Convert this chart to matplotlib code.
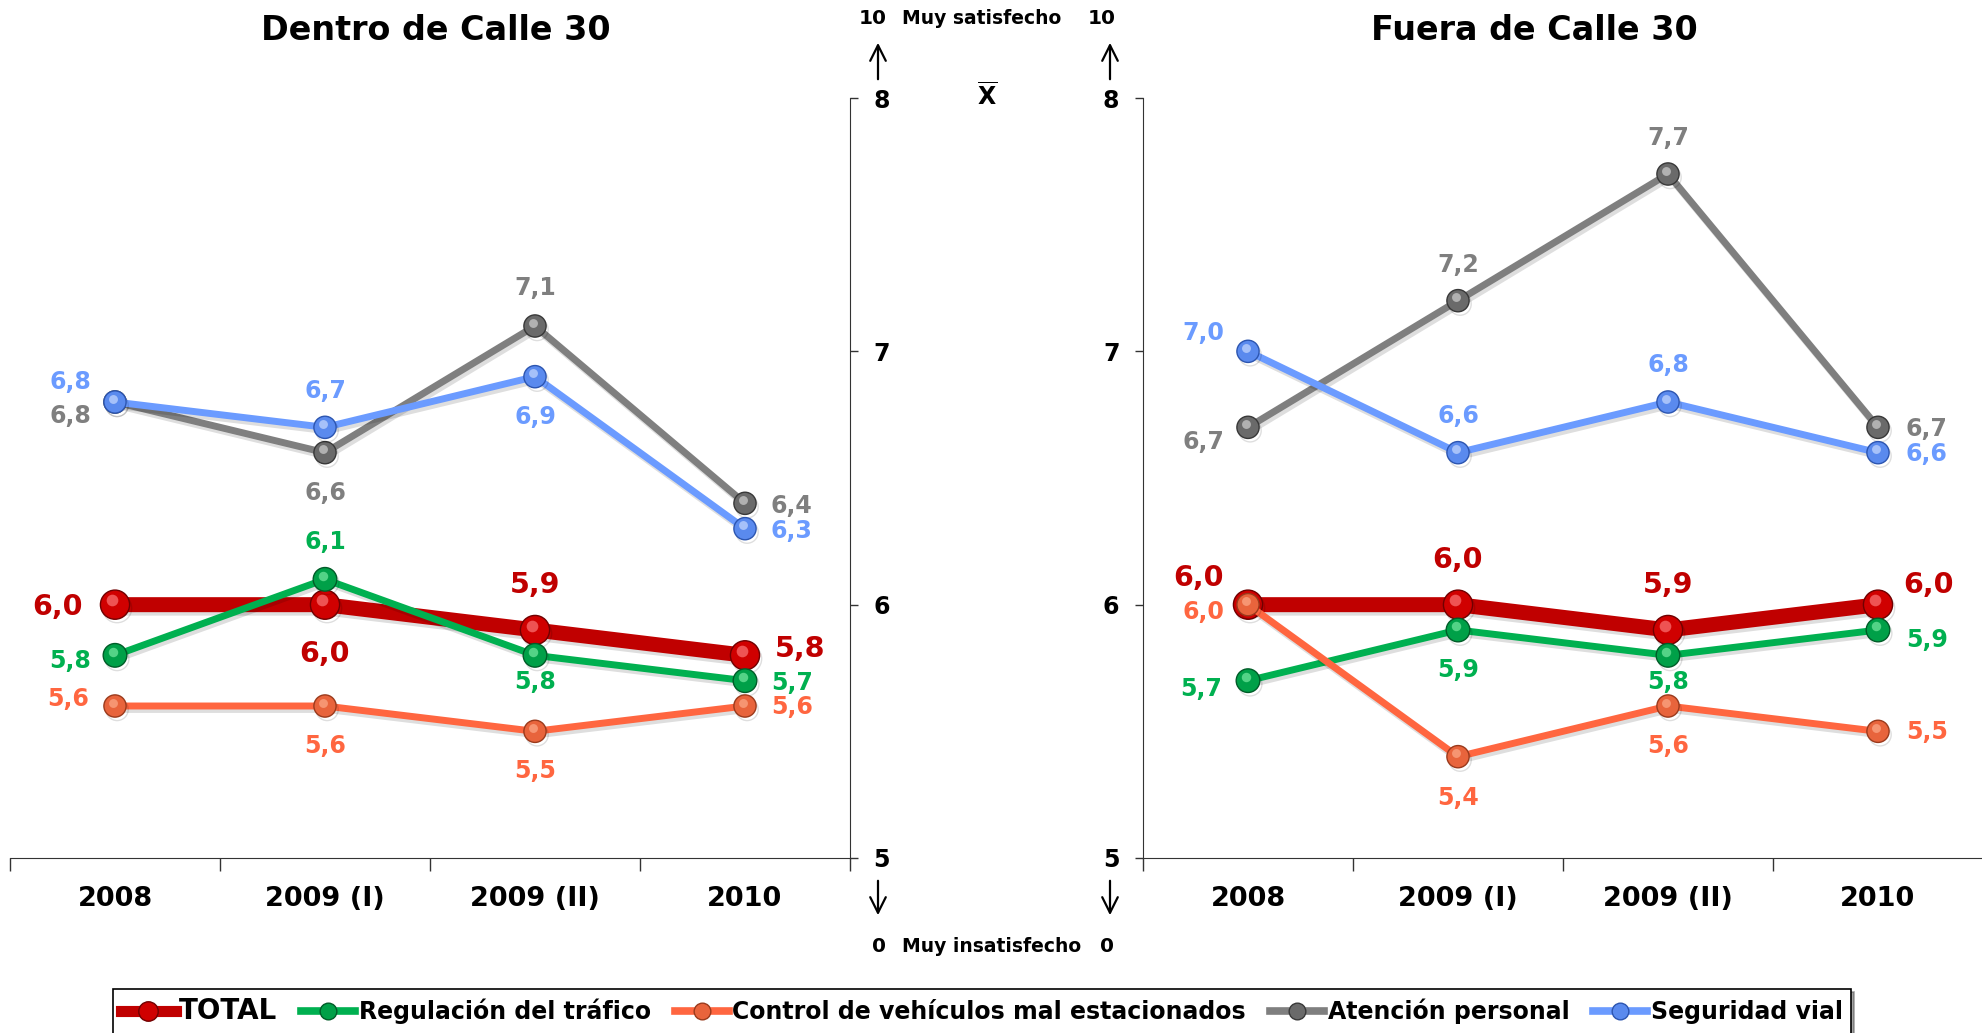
import matplotlib
matplotlib.use('Agg')
import matplotlib.pyplot as plt
import matplotlib.patheffects as pe
from matplotlib.lines import Line2D
from matplotlib.transforms import offset_copy

# Data
periods = ['2008', '2009 (I)', '2009 (II)', '2010']
names = ['TOTAL', 'Regulación del tráfico', 'Control de vehículos mal estacionados',
         'Atención personal', 'Seguridad vial']

dentro_total = [6.0, 6.0, 5.9, 5.8]
dentro_trafico = [5.8, 6.1, 5.8, 5.7]
dentro_control = [5.6, 5.6, 5.5, 5.6]
dentro_atencion = [6.8, 6.6, 7.1, 6.4]
dentro_seguridad = [6.8, 6.7, 6.9, 6.3]

fuera_total = [6.0, 6.0, 5.9, 6.0]
fuera_trafico = [5.7, 5.9, 5.8, 5.9]
fuera_control = [6.0, 5.4, 5.6, 5.5]
fuera_atencion = [6.7, 7.2, 7.7, 6.7]
fuera_seguridad = [7.0, 6.6, 6.8, 6.6]

# label offsets in pixels (dx, dy) for each point
dentro_offsets = [
    [(-32, -2), (0, -49), (0, 45), (30, 6)],
    [(-24, -6), (0, 37), (0, -27), (26, -2)],
    [(-26, 7), (0, -40), (0, -40), (26, -1)],
    [(-24, -14), (0, -40), (0, 38), (26, -3)],
    [(-24, 20), (0, 36), (0, -40), (26, -2)],
]
fuera_offsets = [
    [(-24, 27), (0, 45), (0, 45), (25, 20)],
    [(-26, -8), (0, -40), (0, -27), (28, -10)],
    [(-24, -7), (0, -41), (0, -40), (28, -1)],
    [(-24, -15), (0, 36), (0, 36), (28, -2)],
    [(-24, 18), (0, 37), (0, 37), (28, -1)],
]

# styles: line colour, marker colour, marker edge, highlight
colors = ['#C00000', '#00B050', '#FF6640', '#7F7F7F', '#6B9BFF']
mcolors = ['#D00000', '#00A048', '#E8643C', '#6A6A6A', '#5A8AEE']
edges = ['#700000', '#005c28', '#9a3a1c', '#383838', '#2c55b0']
lights = ['#ff8080', '#80f0a8', '#ffb090', '#d8d8d8', '#d0e0ff']
lws = [10.8, 5, 5, 5, 5]
mss = [21, 17, 16, 16, 16]
label_sizes = [20.5, 17, 17, 17, 17]

W, H = 1983, 1033
fig = plt.figure(figsize=(W / 100, H / 100), dpi=100)
ax1 = fig.add_axes([10 / W, 1 - 858 / H, 840 / W, 760 / H])
ax2 = fig.add_axes([1143 / W, 1 - 858 / H, 840 / W, 760 / H])

shadow = [pe.SimpleLineShadow(offset=(1.5, -2.5), shadow_color='k', alpha=0.13), pe.Normal()]


def draw_panel(ax, series, offsets, side):
    x = list(range(len(periods)))
    for k, vals in enumerate(series):
        z = 3 + k
        ax.plot(x, vals, color=colors[k], lw=lws[k], solid_capstyle='butt',
                zorder=z, path_effects=shadow)
        ax.plot(x, vals, 'o', ms=mss[k], mfc=mcolors[k], mec=edges[k], mew=1.0,
                zorder=z + 0.2, path_effects=shadow)
        tr = offset_copy(ax.transData, fig=fig, x=-mss[k] * 0.1, y=mss[k] * 0.15, units='points')
        ax.plot(x, vals, 'o', ms=mss[k] * 0.4, mfc=lights[k], mec='none', alpha=0.65,
                transform=tr, zorder=z + 0.3)
        for i, v in enumerate(vals):
            dx, dy = offsets[k][i]
            ha = 'right' if dx < 0 else ('left' if dx > 0 else 'center')
            ax.annotate(f'{v:.1f}'.replace('.', ','), (i, v), xytext=(dx, dy),
                        textcoords='offset pixels', ha=ha, va='center',
                        color=colors[k], fontsize=label_sizes[k], fontweight='bold',
                        zorder=20, annotation_clip=False)

    ax.set_xlim(-0.5, 3.5)
    ax.set_ylim(5, 8)
    ax.set_xticks(x)
    ax.set_xticklabels(periods, fontsize=19.5, fontweight='bold')
    ax.set_xticks([-0.5, 0.5, 1.5, 2.5, 3.5], minor=True)
    ax.tick_params(axis='x', which='major', length=0, pad=20)
    ax.tick_params(axis='x', which='minor', length=9, width=1, color='#333333', direction='out')
    ax.set_yticks([5, 6, 7, 8])
    ax.set_yticklabels(['5', '6', '7', '8'], fontsize=17, fontweight='bold')
    ax.tick_params(axis='y', length=6, width=1, color='#333333', pad=11)
    ax.spines['top'].set_visible(False)
    if side == 'right':
        ax.yaxis.tick_right()
        ax.spines['left'].set_visible(False)
        ax.spines['right'].set_color('#333333')
    else:
        ax.spines['right'].set_visible(False)
        ax.spines['left'].set_color('#333333')
    ax.spines['bottom'].set_color('#333333')
    ax.patch.set_alpha(0)


draw_panel(ax1, [dentro_total, dentro_trafico, dentro_control, dentro_atencion, dentro_seguridad],
           dentro_offsets, 'right')
draw_panel(ax2, [fuera_total, fuera_trafico, fuera_control, fuera_atencion, fuera_seguridad],
           fuera_offsets, 'left')

# titles
fig.text(436 / W, 1 - 30 / H, 'Dentro de Calle 30', ha='center', va='center',
         fontsize=24, fontweight='bold')
fig.text(1534 / W, 1 - 30 / H, 'Fuera de Calle 30', ha='center', va='center',
         fontsize=24, fontweight='bold')

# scale notes in the middle
fig.text(873 / W, 1 - 19 / H, '10', ha='center', va='center', fontsize=14.5, fontweight='bold')
fig.text(982 / W, 1 - 19 / H, 'Muy satisfecho', ha='center', va='center', fontsize=13.5, fontweight='bold')
fig.text(1102 / W, 1 - 19 / H, '10', ha='center', va='center', fontsize=14.5, fontweight='bold')
fig.text(987 / W, 1 - 97 / H, r'$\overline{\mathbf{X}}$', ha='center', va='center', fontsize=17)
fig.text(879 / W, 1 - 947 / H, '0', ha='center', va='center', fontsize=14.5, fontweight='bold')
fig.text(992 / W, 1 - 947 / H, 'Muy insatisfecho', ha='center', va='center', fontsize=13.5, fontweight='bold')
fig.text(1107 / W, 1 - 947 / H, '0', ha='center', va='center', fontsize=14.5, fontweight='bold')

arrow = dict(arrowstyle='->', lw=1.6, color='black', mutation_scale=28)
for ax_x in (878, 1110):
    ax1.annotate('', xy=(ax_x, H - 40), xytext=(ax_x, H - 82), xycoords='figure pixels',
                 textcoords='figure pixels', arrowprops=arrow, annotation_clip=False)
    ax1.annotate('', xy=(ax_x, H - 918), xytext=(ax_x, H - 878), xycoords='figure pixels',
                 textcoords='figure pixels', arrowprops=arrow, annotation_clip=False)

# legend
handles = []
for k in range(len(names)):
    handles.append(Line2D([0], [0], color=colors[k], lw=8 if k == 0 else 5.5,
                          marker='o', ms=14 if k == 0 else 12, mfc=mcolors[k], mec=edges[k]))
leg = fig.legend(handles, names, loc='upper center', bbox_to_anchor=(982 / W, 1 - 989 / H),
                 ncol=5, handlelength=2.3, handletextpad=0.15, borderaxespad=0,
                 columnspacing=1.0, frameon=True, fancybox=False, shadow=True,
                 borderpad=0.35, prop={'weight': 'bold', 'size': 17})
leg.get_frame().set_edgecolor('black')
leg.get_frame().set_linewidth(1.2)
leg.get_texts()[0].set_fontsize(20)

fig.savefig('out.png', dpi=100)
